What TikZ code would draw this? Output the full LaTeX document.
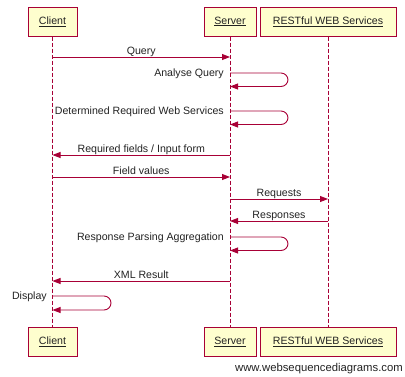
\documentclass[tikz,border=0pt]{standalone}
\usepackage{fontspec}
\setmainfont{Liberation Sans}
\usetikzlibrary{arrows.meta}
\definecolor{wsdline}{HTML}{A80036}
\definecolor{wsdfill}{HTML}{FEFECE}
\definecolor{wsdtext}{HTML}{222222}
\begin{document}
\begin{tikzpicture}[x=1pt,y=-1pt,
  font=\fontsize{10.6}{13}\selectfont,text=wsdtext,
  actor/.style={draw=wsdline,fill=wsdfill,line width=1pt,minimum height=29pt,inner sep=0pt},
  life/.style={draw=wsdline,line width=0.9pt,dash pattern=on 4pt off 2pt},
  msg/.style={draw=wsdline,line width=0.9pt,-{Triangle[length=8pt,width=6pt]}},
  selfmsg/.style={msg,rounded corners=7pt},
  lbl/.style={anchor=base,inner sep=0pt,yshift=2.5pt},
  slbl/.style={anchor=base east,inner sep=0pt}]
\useasboundingbox (0,0) rectangle (405,376);
% actors top
\node[actor,minimum width=49pt] (ct) at (52.5,21.5) {\underline{Client}};
\node[actor,minimum width=52pt] (st) at (230,21.5) {\underline{Server}};
\node[actor,minimum width=136pt] (rt) at (328,21.5) {\underline{RESTful WEB Services}};
% actors bottom
\node[actor,minimum width=49pt] (cb) at (52.5,342) {\underline{Client}};
\node[actor,minimum width=52pt] (sb) at (230,342) {\underline{Server}};
\node[actor,minimum width=136pt] (rb) at (328,342) {\underline{RESTful WEB Services}};
% lifelines
\draw[life] (ct.south) -- (cb.north);
\draw[life] (st.south) -- (sb.north);
\draw[life] (rt.south) -- (rb.north);
% messages
\draw[msg] (ct.south |- 0,57) -- node[lbl]{Query} (st.south |- 0,57);
\draw[selfmsg] (st.south |- 0,73) -- (288,73) -- (288,86.5) -- (st.south |- 0,86.5);
\node[slbl] (l2) at (224,76.5) {Analyse Query};
\draw[selfmsg] (st.south |- 0,111) -- (288,111) -- (288,124.5) -- (st.south |- 0,124.5);
\node[slbl] (l3) at (224,114.5) {Determined Required Web Services};
\draw[msg] (st.south |- 0,155) -- node[lbl]{Required fields / Input form} (ct.south |- 0,155);
\draw[msg] (ct.south |- 0,177) -- node[lbl]{Field values} (st.south |- 0,177);
\draw[msg] (st.south |- 0,199) -- node[lbl]{Requests} (rt.south |- 0,199);
\draw[msg] (rt.south |- 0,221) -- node[lbl]{Responses} (st.south |- 0,221);
\draw[selfmsg] (st.south |- 0,237) -- (288,237) -- (288,250.5) -- (st.south |- 0,250.5);
\node[slbl] (l8) at (224,240.5) {Response Parsing Aggregation};
\draw[msg] (st.south |- 0,281) -- node[lbl]{XML Result} (ct.south |- 0,281);
\draw[selfmsg] (ct.south |- 0,296) -- (111,296) -- (111,310) -- (ct.south |- 0,310);
\node[slbl] (l10) at (47,299.5) {Display};
% watermark
\node[anchor=base east,inner sep=0pt,font=\fontsize{11.3}{13}\selectfont] (wm) at (403,371) {www.websequencediagrams.com};
\end{tikzpicture}
\end{document}
